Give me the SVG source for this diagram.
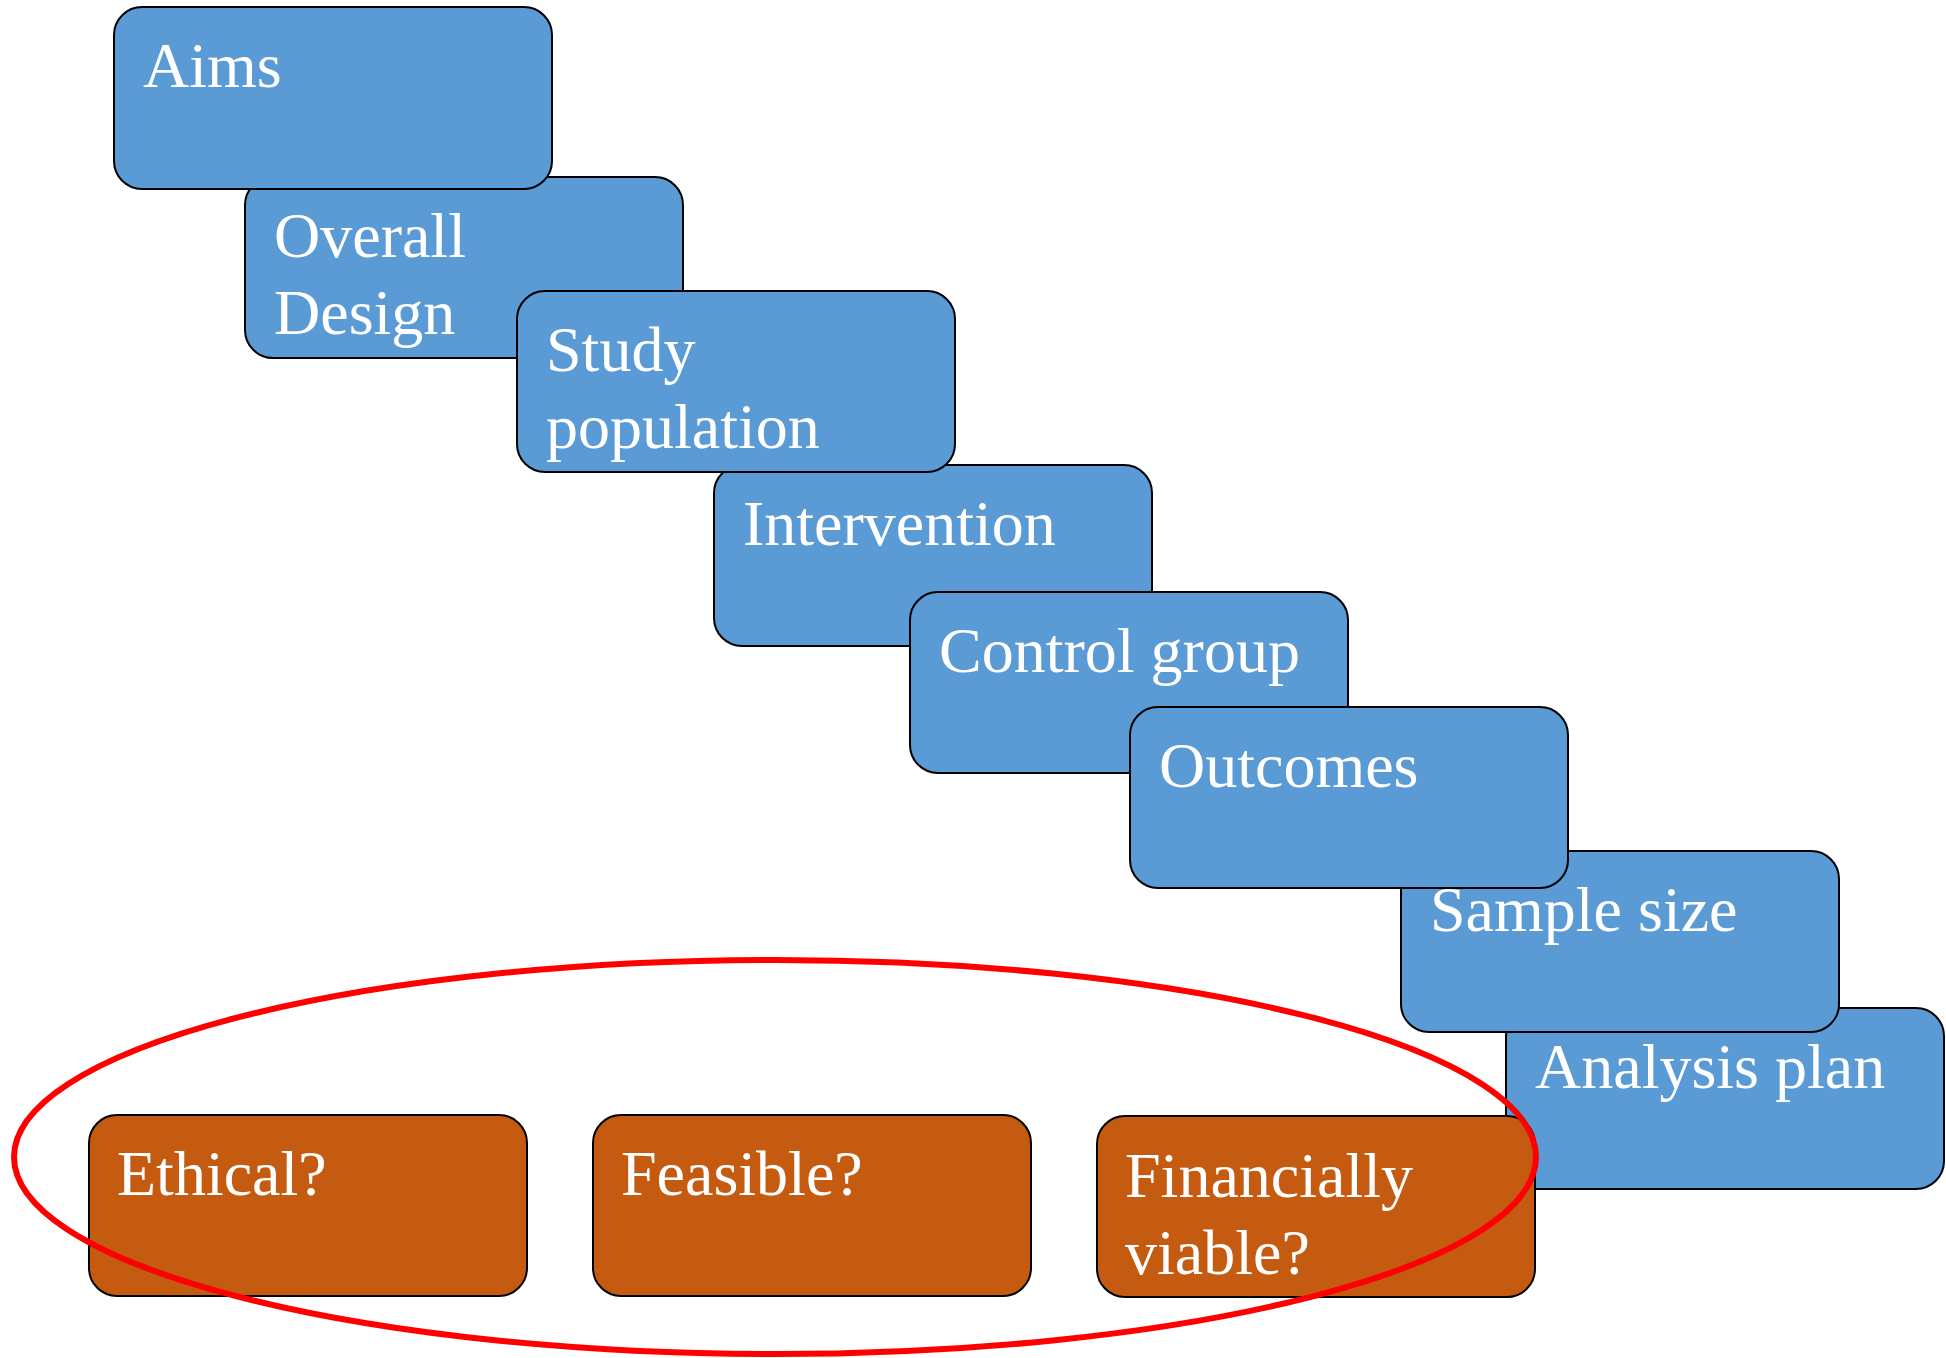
<svg xmlns="http://www.w3.org/2000/svg" width="1946" height="1358" viewBox="0 0 1946 1358">
  <style>
    .box rect { stroke: #000; stroke-width: 2; }
    .blue rect { fill: #5B9BD5; }
    .orange rect { fill: #C55A11; }
    .box text { fill: #fff; font-family: "Liberation Serif", "Times New Roman", serif; font-size: 64px; }
    .halo { fill: none; stroke: #FF0000; stroke-width: 6; }
  </style>
  <rect width="1946" height="1358" fill="#fff"/>

  <!-- study design steps, stacked diagonally -->
  <g id="analysis-plan" class="box blue">
    <rect x="1506" y="1008" width="438" height="181" rx="28"/>
    <text x="1535" y="1088">Analysis plan</text>
  </g>
  <g id="sample-size" class="box blue">
    <rect x="1401" y="851" width="438" height="181" rx="28"/>
    <text x="1430" y="931">Sample size</text>
  </g>
  <g id="overall-design" class="box blue">
    <rect x="245" y="177" width="438" height="181" rx="28"/>
    <text x="274" y="257">Overall</text>
    <text x="274" y="334">Design</text>
  </g>
  <g id="aims" class="box blue">
    <rect x="114" y="7" width="438" height="182" rx="28"/>
    <text x="143" y="87">Aims</text>
  </g>
  <g id="intervention" class="box blue">
    <rect x="714" y="465" width="438" height="181" rx="28"/>
    <text x="743" y="545">Intervention</text>
  </g>
  <g id="study-population" class="box blue">
    <rect x="517" y="291" width="438" height="181" rx="28"/>
    <text x="546" y="371">Study</text>
    <text x="546" y="448">population</text>
  </g>
  <g id="control-group" class="box blue">
    <rect x="910" y="592" width="438" height="181" rx="28"/>
    <text x="939" y="672">Control group</text>
  </g>
  <g id="outcomes" class="box blue">
    <rect x="1130" y="707" width="438" height="181" rx="28"/>
    <text x="1159" y="787">Outcomes</text>
  </g>

  <!-- overarching checks -->
  <g id="ethical" class="box orange">
    <rect x="89" y="1115" width="438" height="181" rx="28"/>
    <text x="117" y="1195">Ethical?</text>
  </g>
  <g id="feasible" class="box orange">
    <rect x="593" y="1115" width="438" height="181" rx="28"/>
    <text x="621" y="1195">Feasible?</text>
  </g>
  <g id="financially-viable" class="box orange">
    <rect x="1097" y="1116" width="438" height="181" rx="28"/>
    <text x="1125" y="1197">Financially</text>
    <text x="1125" y="1274">viable?</text>
  </g>

  <g id="connectors">
    <ellipse class="halo" cx="775" cy="1157" rx="761" ry="197"/>
  </g>
</svg>
